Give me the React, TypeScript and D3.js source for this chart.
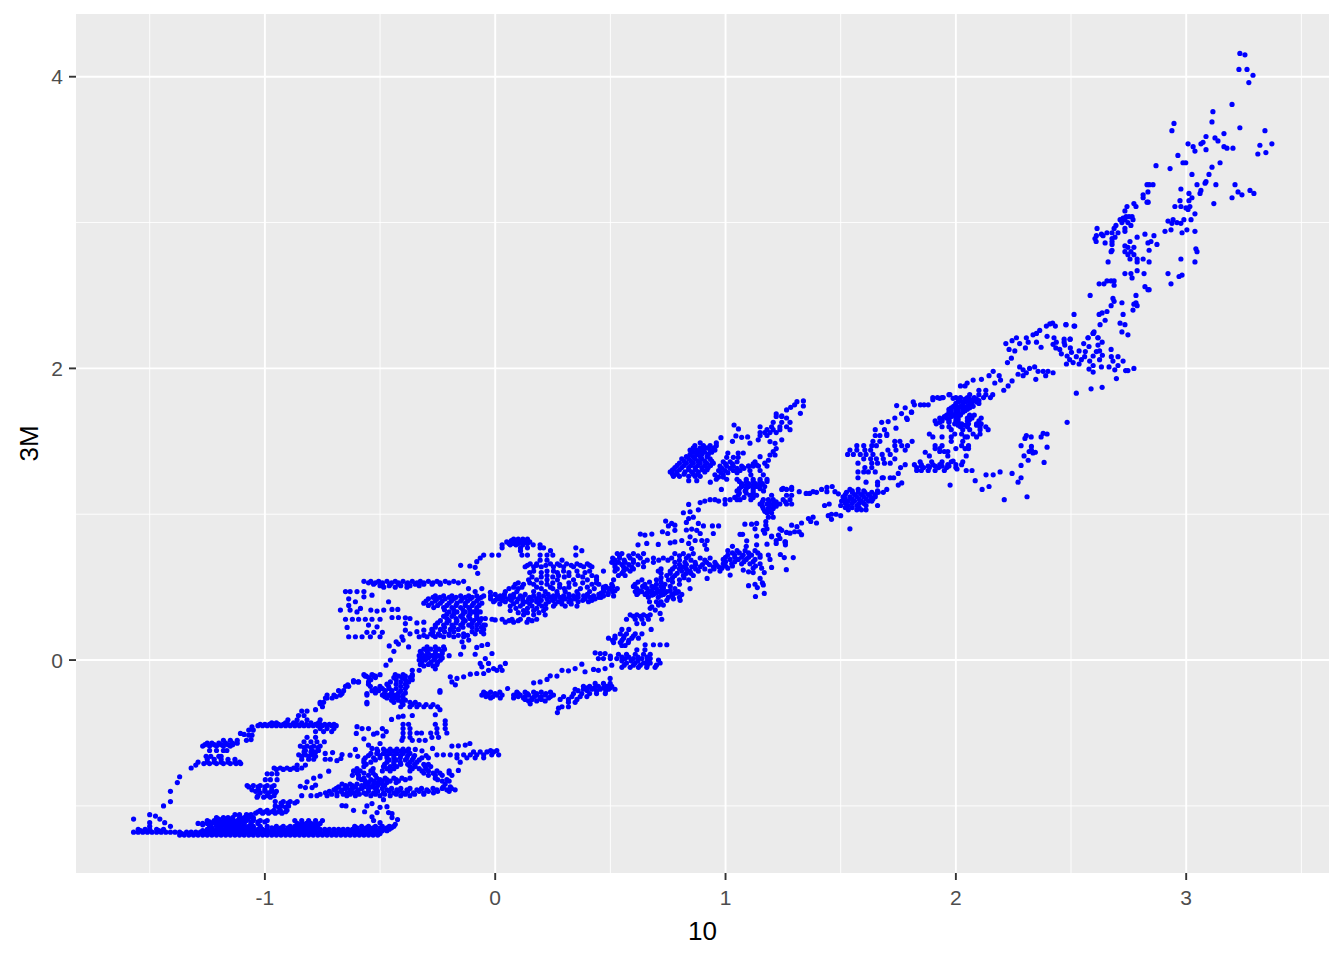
import * as d3 from 'd3';

// rates: x = 10 year, y = 3 month. Rows are [y, [x, x, ...]]
type Row = [number, number[]];

const bottomBand: Row[] = [
  [-1.2, [-1.37,-1.35,-1.33,-1.31,-1.29,-1.27,-1.25,-1.23,-1.21,-1.19,-1.17,-1.15,-1.13,-1.11,-1.09,-1.07,-1.05,-1.03,-1.01,-.99,-.97,-.95,-.93,-.91,-.89,-.87,-.85,-.83,-.81,-.79,-.77,-.75,-.73,-.71,-.69,-.67,-.65,-.63,-.61,-.59,-.57,-.55,-.53,-.51]],
  [-1.19, [-1.36,-1.33,-1.3,-1.27,-1.24,-1.21,-1.18,-1.15,-1.12,-1.09,-1.06,-1.03,-1,-.97,-.94,-.91,-.88,-.85,-.82,-.79,-.76,-.73,-.7,-.67,-.64,-.61,-.58,-.55,-.52,-.5]],
  [-1.18, [-1.57,-1.55,-1.53,-1.51,-1.49,-1.47,-1.45,-1.43,-1.41,-1.39,-1.37,-1.34,-1.32,-1.3,-1.28,-1.26,-1.24,-1.22,-1.2,-1.18,-1.16,-1.14,-1.12,-1.1,-1.08,-1.06,-1.04,-1.02,-1,-.98,-.96,-.94,-.92,-.9,-.88,-.86,-.84,-.82,-.8,-.78,-.76,-.74,-.72,-.7,-.68,-.66,-.64,-.62,-.6,-.58,-.56,-.54,-.52,-.5]],
  [-1.17, [-1.54,-1.5,-1.46,-1.27,-1.24,-1.21,-1.18,-1.15,-1.12,-1.09,-1.06,-1.03,-1,-.97,-.94,-.91,-.88,-.85,-.82,-.79,-.76,-.73,-.7,-.67,-.64,-.61,-.58,-.55,-.52,-.49,-.47]],
  [-1.16, [-1.55,-1.52,-1.5,-1.47,-1.44,-1.25,-1.23,-1.21,-1.19,-1.17,-1.15,-1.13,-1.11,-1.09,-1.07,-1.05,-1.03,-1.01,-.99,-.96,-.94,-.92,-.9,-.88,-.86,-.84,-.82,-.8,-.78,-.76,-.74,-.72,-.7,-.68,-.66,-.64,-.62,-.6,-.58,-.56,-.54,-.52,-.5,-.48,-.46]],
  [-1.15, [-1.23,-1.2,-1.17,-1.14,-1.11,-1.08,-1.05,-.97,-.93,-.9,-.87,-.84,-.81,-.78,-.6,-.56,-.53,-.5,-.47,-.45]],
  [-1.14, [-1.5,-1.24,-1.21,-1.19,-1.17,-1.15,-1.13,-1.11,-1.09,-1.07,-1.05,-1.02,-.99,-.95,-.92,-.89,-.87,-.85,-.83,-.81,-.79,-.77,-.61,-.58,-.55,-.52,-.49,-.46,-.44]],
  [-1.13, [-1.27,-1.24,-1.21,-1.18,-1.15,-1.12,-1.09,-1.06,-.85,-.82,-.79]],
  [-1.12, [-1.29,-1.27,-1.25,-1.23,-1.21,-1.19,-1.17,-1.15,-1.13,-1.11,-1.09,-1.06,-1.03,-.86,-.84,-.82,-.8,-.78,-.76]],
  [-1.11, [-1.24,-1.21,-1.18,-1.15,-1.12,-1.09,-1.06,-1.03,-1]],
  [-1.1, [-1.25,-1.22,-1.2,-1.18,-1.16,-1.14,-1.12,-1.1,-1.08,-1.05,-1.02,-.99,-.87,-.84,-.81,-.78,-.75]],
  [-1.09, [-1.2,-1.17,-1.14,-1.11,-1.08,-1.05]],
  [-1.08, [-1.21,-1.18,-1.16,-1.14,-1.11,-1.09,-1.07,-1.05]],
  [-1.06, [-1.13,-1.11,-1.08,-1.06]],
];

const lowerLeftDots: [number, number][] = [
  [-1.57,-1.09],[-1.5,-1.06],[-1.475,-1.07],[-1.456,-1.09],[-1.435,-1.115],[-1.41,-1.14],[-1.5,-1.115],[-1.44,-1],[-1.41,-.97],[-1.41,-.9],[-1.38,-.84],[-1.37,-.8],
  [-1.32,-.74],[-1.3,-.72],[-.665,-.998],[-.648,-1],[-.615,-1.03],[-.567,-1.04],[-.557,-1],[-.535,-.984],[-.5,-1.01],[-.47,-1.005],[-.513,-1.046],[-.535,-1.075],[-.463,-1.046],[-.448,-1.053],[-.448,-1.08],[-.424,-1.094],[-.528,-1.1],[-.5,-1.115],[-.434,-1.126],[-.456,-1.144],[-.485,-.957],[-1.07,-1.064],
  [-1.056,-.458],[-1.07,-.48],[-1.05,-.48],[-1.09,-.51],[-1.07,-.515],[-1.056,-.515],[-1.08,-.55],[-1.06,-.545],[-1.106,-.503],
  [-.78,-.34],[-.76,-.3],[-.73,-.26],[-.69,-.25],[-.665,-.23],[-.64,-.17],[-.615,-.14],[-.595,-.15],[-.565,-.11],[-.53,-.105],
  [-.76,-.796],[-.788,-.81],[-.817,-.835],[-.78,-.858],[-.846,-.865],[-.824,-.874],[-.795,-.874],[-.723,-.762],[-.706,-.634],[-.738,-.64],[-.63,-.652],[-.607,-.613],[-.597,-.66],[-.665,-.648],[-.67,-.675],[-.687,-.69],
  [-.6,-.457],[-.603,-.503],[-.578,-.47],[-.55,-.47],[-.57,-.54],[-.528,-.508],[-.513,-.5],[-.49,-.47],[-.473,-.49],[-.487,-.52],[-.5,-.572],[-.55,-.583],[-.535,-.606],[-.272,-.606],[-.347,-.613],[-.318,-.622],[-.188,-.59],[-.16,-.588],[-.13,-.583],[-.11,-.572],[-.16,-.757],[-.152,-.7],
  [-.45,-.407],[-.42,-.39],[-.4,-.385],[-.217,-.416],[-.36,-.38],[-.26,-.375],[-.24,-.34],[-.24,-.22],[-.55,-.165],[-.557,-.23],[-.557,-.3],
];

const lowerLeftRows: Row[] = [
  [-.71, [-1.265,-1.24,-1.21,-1.18,-1.15,-1.125,-1.105]],
  [-.7, [-1.29,-1.25,-1.22,-1.19,-1.16,-1.13,-1.11]],
  [-.68, [-1.25,-1.22,-1.19,-1.16,-1.13]],
  [-.66, [-1.255,-1.235,-1.2,-1.19]],
  [-.62, [-1.24,-1.21,-1.18,-1.165]],
  [-.59, [-1.27,-1.24,-1.21,-1.18,-1.15]],
  [-.58, [-1.26,-1.22,-1.19,-1.16,-1.14]],
  [-.57, [-1.25,-1.23,-1.2,-1.17,-1.14,-1.12]],
  [-.55, [-1.18,-1.15,-1.12]],
  [-.45, [-1.03,-1.01,-.99,-.97,-.95,-.93,-.91,-.89,-.87,-.85,-.83,-.81,-.79,-.77,-.75,-.73,-.71,-.69]],
  [-.44, [-1.02,-1,-.98,-.96,-.94,-.92,-.9,-.88,-.86,-.84,-.82,-.8,-.78,-.76,-.74,-.72,-.7]],
  [-.43, [-.97,-.95,-.91,-.875,-.84,-.8,-.767]],
  [-.41, [-.9,-.86,-.817,-.76]],
  [-.38, [-.854,-.83]],
  [-.35, [-.84,-.817]],
  [-.47, [-.76,-.73,-.7]],
  [-.49, [-.78,-.745,-.71]],
  [-.53, [-.817,-.78]],
  [-.56, [-.83,-.8,-.774,-.742]],
  [-.59, [-.846,-.817,-.788,-.76]],
  [-.6, [-.83,-.8,-.77]],
  [-.62, [-.824,-.795,-.767]],
  [-.63, [-.83,-.8,-.78]],
  [-.65, [-.853,-.824,-.795]],
  [-.66, [-.84,-.81,-.78]],
  [-.68, [-.84,-.81,-.788,-.738,-.716]],
  [-.72, [-.86,-.824]],
  [-.74, [-.96,-.933,-.904,-.875,-.84]],
  [-.75, [-.95,-.92,-.89,-.86]],
  [-.78, [-.99,-.97,-.947]],
  [-.82, [-.998,-.976,-.947]],
  [-.86, [-1.077,-1.05,-1.02,-.99,-.96]],
  [-.87, [-1.07,-1.03,-1,-.97]],
  [-.89, [-1.056,-1.027,-1,-.97]],
  [-.9, [-1.04,-1,-.97,-.95]],
  [-.91, [-1.02,-.984,-.955]],
  [-.93, [-1.03,-.99,-.96]],
  [-.94, [-1.034,-1.005,-.976]],
  [-.97, [-.955,-.92,-.89,-.86]],
  [-.98, [-.93,-.9,-.87]],
  [-1, [-.955,-.926,-.897]],
  [-1.01, [-.94,-.91]],
  [-1.03, [-1.02,-.99,-.96,-.933,-.904]],
  [-1.04, [-1.03,-1,-.97,-.94,-.91]],
  [-1.05, [-1.04,-1.01,-.984,-.955,-.926]],
];

const centerLowRows: Row[] = [
  [-.44, [-.4,-.376,-.26,-.217]],
  [-.47, [-.4,-.37,-.253,-.217]],
  [-.5, [-.4,-.37,-.34,-.32,-.28,-.253,-.21]],
  [-.53, [-.4,-.37,-.275,-.246]],
  [-.55, [-.405,-.36,-.33,-.304]],
  [-.61, [-.514,-.485,-.456,-.427,-.4,-.376]],
  [-.625, [-.51,-.47,-.44,-.41,-.385]],
  [-.64, [-.54,-.514,-.485,-.456,-.427,-.4,-.37]],
  [-.655, [-.55,-.5,-.47,-.44,-.41,-.38,-.35,-.3]],
  [-.67, [-.564,-.528,-.5,-.47,-.44,-.412,-.383,-.355,-.318,-.29]],
  [-.685, [-.57,-.52,-.46,-.43,-.39,-.36,-.33]],
  [-.7, [-.57,-.54,-.47,-.44,-.412,-.37,-.34]],
  [-.715, [-.56,-.48,-.44,-.41,-.38,-.35,-.31,-.29]],
  [-.73, [-.57,-.485,-.456,-.427,-.37,-.347,-.304,-.28]],
  [-.745, [-.6,-.53,-.47,-.44,-.36,-.33,-.3]],
  [-.76, [-.615,-.586,-.54,-.49,-.456,-.37,-.318,-.29,-.253,-.2]],
  [-.775, [-.6,-.57,-.53,-.31,-.27,-.24,-.2]],
  [-.79, [-.62,-.593,-.55,-.52,-.29,-.26,-.23,-.188]],
  [-.81, [-.593,-.57,-.514,-.478,-.44,-.405,-.37,-.26]],
  [-.82, [-.58,-.54,-.5,-.47,-.43,-.39,-.25,-.21]],
  [-.83, [-.564,-.528,-.49,-.456,-.42,-.23,-.2]],
  [-.84, [-.55,-.51,-.47,-.43]],
  [-.85, [-.665,-.63,-.6,-.564,-.528,-.49,-.217]],
  [-.86, [-.65,-.62,-.58,-.55,-.51,-.48]],
  [-.87, [-.68,-.644,-.607,-.57,-.535,-.225,-.195]],
  [-.88, [-.69,-.65,-.62,-.58,-.55,-.52,-.49,-.45,-.41,-.37,-.32,-.27,-.23,-.19]],
  [-.89, [-.7,-.665,-.63,-.593,-.514,-.47,-.427,-.383,-.34,-.297,-.253,-.21,-.174]],
  [-.9, [-.72,-.67,-.63,-.6,-.55,-.51,-.46,-.42,-.38,-.33,-.29,-.25,-.2]],
  [-.91, [-.737,-.687,-.644,-.615,-.57,-.528,-.485,-.44,-.4,-.355,-.31,-.268]],
  [-.92, [-.76,-.71,-.66,-.63,-.59,-.56,-.52,-.48,-.43,-.39,-.35,-.31]],
  [-.93, [-.84,-.8,-.774,-.73,-.687,-.644,-.607,-.54,-.5,-.456,-.41,-.37]],
  [-.63, [-.094,-.065,-.036,-.007]],
  [-.62, [-.02,.007]],
  [-.65, [-.253,-.225,-.195,-.166,-.137,-.108,-.08,-.05,-.015,.015]],
  [-.67, [-.166,-.123,-.087,-.05]],
];

const middleLeftRows: Row[] = [
  [.54, [-.57,-.54,-.506,-.47,-.434,-.4,-.36,-.325,-.29,-.253,-.217,-.18,-.137]],
  [.53, [-.55,-.52,-.49,-.45,-.42,-.38,-.34,-.31,-.27,-.24,-.2,-.16]],
  [.52, [-.528,-.49,-.455,-.42,-.383,-.347,-.31,-.274,-.238]],
  [.51, [-.5,-.46,-.41,-.37,-.33]],
  [.5, [-.484,-.434,-.383]],
  [.47, [-.65,-.63,-.6,-.57]],
  [.28, [-.65,-.62,-.593,-.564,-.535,-.5]],
  [.19, [-.557,-.527,-.49]],
  [.16, [-.636,-.607,-.578,-.542,-.5,-.33,-.296,-.26,-.224,-.18,-.137]],
  [.44, [-.26,-.224,-.188,-.15,-.115,-.08,-.05]],
  [.43, [-.27,-.24,-.2,-.17,-.13,-.1,-.06]],
  [.42, [-.29,-.253,-.217,-.18,-.144,-.108,-.072]],
  [.405, [-.3,-.26,-.23,-.19,-.15,-.12,-.08]],
  [.39, [-.31,-.275,-.238,-.2,-.166,-.13,-.094,-.058]],
  [.375, [-.29,-.25,-.21,-.17,-.13,-.1,-.07]],
  [.36, [-.267,-.224,-.188,-.15,-.115,-.08]],
  [.345, [-.22,-.18,-.14,-.11,-.08]],
  [.33, [-.2,-.166,-.13,-.094,-.065]],
  [.315, [-.21,-.18,-.14,-.11,-.08]],
  [.3, [-.224,-.188,-.15,-.115,-.08]],
  [.285, [-.21,-.17,-.14,-.11,-.08,-.06]],
  [.27, [-.238,-.2,-.166,-.13,-.094,-.065]],
  [.255, [-.25,-.21,-.17,-.14,-.1,-.07]],
  [.24, [-.26,-.224,-.188,-.15,-.115,-.08,-.05]],
  [.225, [-.26,-.22,-.18,-.14,-.1,-.06]],
  [.21, [-.275,-.238,-.195,-.16,-.08,-.05]],
  [.195, [-.27,-.22,-.18,-.1,-.06]],
  [.18, [-.28,-.246,-.2,-.137,-.087,-.05]],
  [.17, [-.31,-.27,-.24,-.2,-.16,-.12]],
  [.09, [-.296,-.26,-.224]],
  [.075, [-.31,-.28,-.245,-.22]],
  [.06, [-.325,-.296,-.26,-.23]],
  [.045, [-.32,-.29,-.26,-.23]],
  [.03, [-.33,-.303,-.274,-.246,-.2]],
  [.015, [-.32,-.29,-.26,-.23]],
  [0, [-.33,-.303,-.267,-.238]],
  [-.015, [-.32,-.28,-.25]],
  [-.03, [-.325,-.29,-.253]],
  [-.04, [-.31,-.27]],
  [-.06, [-.26]],
  [-.07, [-.36,-.33]],
  [-.1, [-.57,-.535,-.5,-.434,-.4,-.36]],
  [-.11, [-.56,-.52,-.42,-.39,-.36]],
  [-.12, [-.55,-.52,-.44,-.405,-.37]],
  [-.135, [-.54,-.43,-.39,-.36]],
  [-.15, [-.615,-.593,-.55,-.455,-.41,-.376]],
  [-.165, [-.47,-.43,-.39]],
  [-.18, [-.65,-.636,-.542,-.5,-.463,-.41,-.383]],
  [-.195, [-.52,-.49,-.46,-.43,-.39]],
  [-.21, [-.68,-.658,-.535,-.506,-.477,-.448,-.41,-.24]],
  [-.225, [-.52,-.48,-.45,-.42,-.39]],
  [-.24, [-.73,-.7,-.672,-.557,-.49,-.462,-.434,-.4]],
  [-.25, [-.48,-.45,-.42]],
  [-.26, [-.737,-.708,-.47,-.434,-.4]],
  [-.275, [-.45,-.42,-.39]],
  [-.29, [-.76,-.745,-.557,-.44,-.405,-.37,-.347]],
  [-.305, [-.4,-.36,-.33,-.3,-.27]],
  [-.32, [-.75,-.41,-.37,-.34,-.31,-.28,-.25]],
];

const middleLeftDots: [number, number][] = [
  [-.636,.42],[-.636,.375],[-.607,.4],[-.585,.354],[-.57,.434],[-.535,.445],[-.672,.343],[-.63,.343],[-.6,.33],[-.463,.4],[-.54,.343],[-.513,.336],[-.484,.343],[-.448,.347],[-.423,.347],[-.448,.292],[-.42,.292],[-.643,.224],[-.55,.24],[-.513,.228],
  [-.39,.29],[-.37,.285],[-.34,.255],[-.31,.26],[-.39,.25],[-.39,.205],[-.37,.18],[-.34,.195],[-.31,.205],
  [-.144,.125],[-.137,.09],[-.08,.087],[-.058,.1],[-.033,.107],[-.087,.04],[-.15,.04],[-.115,.137],
  [-.405,.16],[-.43,.125],[-.46,.097],[-.42,.11],[-.376,.09],[-.44,.06],[-.4,.137],[-.455,0],[-.474,-.035],
  [-.195,-.115],[-.188,-.15],[-.173,-.17],[-.166,-.126],[-.137,-.115],[-.108,-.097],[-.08,-.092],[-.05,-.092],[-.065,-.023],[-.043,.01],[-.014,.045],
  [-.058,-.046],[-.029,-.023],[-.029,-.07],[-.007,-.058],[.022,-.046],[.044,-.023],[.007,-.07],[.03,-.07],
  [-.15,.65],[-.11,.645],[-.087,.636],[-.076,.595],[-.08,.675],[-.065,.7],[-.05,.72],[-.014,.72],[.015,.72],
  [-.116,.49],[-.087,.47],[-.058,.49],[-.021,.465],[-.043,.285],[0,.275],[-.043,.24],
];

const centerRows: Row[] = [
  [.83, [.08,.1,.12,.14]],
  [.82, [.07,.1,.13]],
  [.81, [.05,.07,.09,.11,.13,.15]],
  [.8, [.06,.08,.1,.12,.14]],
  [.79, [.03,.065,.09,.12,.165,.195]],
  [.77, [.03,.11,.14,.195,.21,.35]],
  [.75, [.11,.24,.376]],
  [.72, [.116,.14,.195,.225,.25,.35]],
  [.685, [.195,.225,.29]],
  [.66, [.152,.18,.24,.27,.31,.355,.4]],
  [.65, [.14,.18,.22,.28,.33,.37,.41]],
  [.64, [.13,.167,.2,.253,.297,.34,.384,.42]],
  [.61, [.167,.225,.253,.297,.355,.41,.47]],
  [.6, [.15,.2,.27,.32,.39]],
  [.58, [.225,.275,.32,.36,.42]],
  [.57, [.16,.2,.25,.3,.38,.44]],
  [.55, [.145,.18,.225,.27,.34,.4,.44]],
  [.53, [.1,.15,.2,.25,.32,.38,.44]],
  [.52, [.087,.123,.167,.225,.28,.347,.42,.45]],
  [.5, [.08,.116,.18,.24,.28,.32,.4,.47]],
  [.49, [.06,.1,.2,.25,.3,.37,.43,.49]],
  [.47, [.044,.094,.167,.217,.268,.304,.355,.41,.47,.51]],
  [.45, [0,.04,.08,.13,.19,.23,.27,.32,.36,.4,.45,.49]],
  [.44, [-.02,.022,.065,.109,.167,.21,.253,.297,.34,.384,.427,.47,.514]],
  [.43, [.01,.04,.08,.12,.15,.19,.24,.28,.32,.36,.41,.45]],
  [.42, [-.02,.015,.058,.1,.145,.18,.225,.26,.304,.347,.39,.434]],
  [.41, [0,.03,.07,.12,.16,.2,.25,.29,.33,.38,.42]],
  [.4, [-.007,.044,.094,.138,.18,.232,.275,.32,.36,.405]],
  [.385, [.02,.08,.12,.15,.19,.22,.26,.29,.33]],
  [.37, [.065,.109,.16,.203,.253,.304,.355]],
  [.355, [.09,.14,.18,.22]],
  [.34, [.065,.123,.167,.21]],
  [.325, [.1,.14,.19]],
  [.31, [.123,.167,.217]],
  [.28, [-.014,.03,.073,.109,.145,.18]],
  [.27, [.06,.1,.16]],
  [.26, [.044,.08,.138]],
];

const lowerCenterRows: Row[] = [
  [-.22, [-.05,-.02,.02,.094,.13,.167,.2,.24]],
  [-.23, [-.04,0,.1,.14,.18,.22]],
  [-.24, [-.058,-.03,.008,.03,.08,.109,.145,.18,.217,.253]],
  [-.25, [-.04,-.01,.1,.13,.17,.2,.24]],
  [-.26, [-.02,.022,.08,.123,.16,.195,.232]],
  [-.27, [.13,.16,.2]],
  [-.28, [.145,.18,.217]],
  [-.16, [.434,.47,.499]],
  [-.18, [.383,.41,.448,.485,.506]],
  [-.19, [.4,.43,.47,.5]],
  [-.2, [.347,.383,.42,.456,.492,.52]],
  [-.21, [.36,.4,.44,.48]],
  [-.23, [.34,.376,.41,.44,.478]],
  [-.25, [.297,.333,.369,.398]],
  [-.27, [.282,.318,.355]],
  [-.29, [.318,.347]],
  [-.32, [.29,.318]],
  [.07, [.615,.65]],
  [.04, [.535,.57,.608,.644,.673]],
  [.02, [.55,.58,.62,.66]],
  [.01, [.528,.564,.6,.637,.673]],
  [-.005, [.55,.59,.62,.66]],
  [-.02, [.57,.608,.644,.673,.716]],
  [-.035, [.56,.6,.63,.66,.7]],
  [-.05, [.55,.586,.622,.658,.694]],
  [.105, [.651,.687,.716,.745]],
  [.21, [.55,.58,.677]],
  [.18, [.543,.57,.608,.637]],
  [.165, [.52,.56,.6]],
  [.15, [.492,.52,.557,.593,.622]],
  [.135, [.51,.55,.58]],
  [.12, [.514,.543,.578]],
  [.1, [.55,.564]],
  [.31, [.586,.615,.644,.673]],
  [.3, [.6,.63,.66]],
  [.28, [.57,.608,.637,.665,.723]],
  [.25, [.615,.644]],
  [.5, [.651,.687,.73]],
  [.47, [.608,.637,.673,.709,.745,.795]],
  [.46, [.62,.66,.7,.73,.78]],
  [.45, [.615,.651,.687,.73,.767,.81]],
];

const lowerCenterDots: [number, number][] = [
  [.054,-.195],[.152,-.3],[.167,-.156],[.195,-.15],[.225,-.133],[.239,-.108],[.268,-.11],[.29,-.07],[.318,-.074],[.347,-.058],[.376,-.028],[.39,-.08],[.427,-.064],[.448,-.07],
  [.434,.05],[.456,.045],[.477,.045],[.448,.01],[.47,.01],[.5,.027],[.477,-.058],[.506,-.035],[.5,.01],[.499,-.126],[.709,0],[.275,-.33],[.27,-.36],
  [.673,.355],[.709,.377],[.695,.343],[.716,.32],[.7,.4],[.745,.41],[.73,.377],[.774,.42],[.803,.41],
];

const midRightRows: Row[] = [
  [.735, [1.03,1.06,1.1,1.14]],
  [.73, [.53,.55,.6,.644,.78,.817,.86]],
  [.715, [.54,.58,.62,.8,.84]],
  [.7, [.51,.54,.586,.63,.687,.73,.766,.83,.89,.933]],
  [.705, [1,1.04,1.07,1.1,1.15]],
  [.685, [.52,.56,.6,.66,.71,.75,.8,.85,.91]],
  [.675, [1,1.04,1.08,1.12]],
  [.67, [.506,.535,.564,.6,.644,.687,.78,.824,.868,.918,.954]],
  [.655, [.52,.55,.58,.62,.8,.83,.87,.9,.93,.96]],
  [.645, [1,1.03,1.13]],
  [.64, [.52,.557,.593,.644,.78,.817,.853,.89,.947,.97]],
  [.625, [.53,.57,.6,.72,.77,.8,.83,.87,.91,.95]],
  [.61, [.52,.557,.586,.708,.76,.81,.846,.882,.933,.976]],
  [.595, [.55,.72,.76,.79,.83,.85]],
  [.58, [.535,.564,.745,.78,.817,.86]],
  [.565, [.72,.77,.82]],
  [.55, [.514,.637,.7,.752,.8,.84]],
  [.535, [.62,.67,.72,.77]],
  [.52, [.506,.607,.65,.7,.737,.8]],
  [.505, [.48,.51,.6,.64,.68,.72,.76]],
  [.49, [.47,.5,.53,.615,.66,.7,.73,.78,.846]],
  [.475, [.47,.52,.63,.68,.72,.76]],
  [.46, [.46,.49,.62,.66,.694,.737,.788]],
  [.445, [.68,.72,.77]],
  [.43, [.46,.665,.708,.752,.8]],
  [.4, [.67,.72]],
  [.78, [1.03,1.09]],
  [.75, [1.01,1.05,1.085,1.128]],
  [.72, [1.01,1.04,1.077,1.113,1.15,1.186]],
  [.69, [.99,1.02,1.055,1.09,1.128,1.193]],
  [.66, [.99,1.027,1.07,1.106,1.15]],
  [.63, [.984,1.01,1.12,1.157]],
  [1.49, [.89,.96]],
  [1.47, [.867,.904,.933,.96]],
  [1.455, [.86,.89,.92,.95]],
  [1.44, [.846,.875,.904,.933,.954]],
  [1.425, [.86,.89,.91,.94]],
  [1.41, [.846,.875,.897,.925]],
  [1.395, [.83,.86,.89,.92]],
  [1.38, [.81,.84,.868,.897,.933]],
  [1.365, [.82,.85,.88,.91,.94]],
  [1.35, [.8,.83,.86,.89,.918,.947]],
  [1.335, [.79,.82,.85,.88,.91,.935]],
  [1.32, [.78,.81,.84,.868,.897,.925]],
  [1.305, [.77,.8,.84,.87,.9,.92]],
  [1.29, [.76,.788,.824,.853,.882,.91]],
  [1.275, [.77,.79,.82,.86,.88]],
  [1.26, [.774,.8,.84,.868,.89]],
  [1.23, [.84,.875]],
  [1.42, [1.01,1.055,1.077]],
  [1.39, [1.005,1.034,1.055]],
  [1.36, [.99,1.02,1.05,1.128]],
  [1.345, [1,1.03]],
  [1.33, [.976,1.005,1.034,1.07,1.1,1.12,1.143]],
  [1.315, [.985,1.02,1.05,1.08]],
  [1.3, [.97,.998,1.034,1.063,1.106]],
  [1.285, [.98,1.01,1.05]],
  [1.27, [.954,.99,1.11,1.164]],
  [1.255, [.97,.99]],
  [1.24, [.96,1.005,1.05,1.09,1.12,1.15,1.18]],
  [1.225, [1.06,1.09,1.12,1.15,1.18]],
  [1.21, [1.07,1.1,1.13,1.16]],
  [1.2, [1.07,1.09,1.12,1.15]],
  [1.19, [1.07,1.1,1.135,1.17]],
  [1.175, [1.06,1.09,1.12,1.15]],
  [1.16, [1.05,1.085,1.12,1.165]],
  [1.145, [1.06,1.09,1.12]],
  [1.13, [1.055,1.106,1.135,1.2,1.265,1.287]],
  [1.115, [1.04,1.08,1.12]],
  [1.1, [.998,1.02,1.05,1.063,1.11,1.164,1.186,1.207,1.25,1.28]],
  [1.085, [1.16,1.19,1.22,1.26]],
  [1.17, [1.244,1.265,1.287]],
  [1.07, [1.15,1.18,1.207,1.236,1.265,1.287]],
  [1.055, [1.16,1.19,1.22]],
  [1.04, [1.164,1.186,1.207]],
  [1.02, [1.17,1.19]],
  [1.01, [1.18,1.2]],
  [.98, [1.186,1.207]],
  [1.6, [1.15,1.2,1.236,1.265]],
  [1.58, [1.18,1.207,1.236,1.28]],
  [1.63, [1.207,1.244,1.28]],
  [1.67, [1.22,1.244]],
  [1.56, [1.15,1.17,1.193,1.22]],
];

const midRightDots: [number, number][] = [
  [.98,1.525],[.934,1.22],[.982,1.17],[.89,1.08],[.91,1.09],[.933,1.1],[.954,1.1],[.97,1.09],[.998,1.07],
  [1.037,1.612],[1.056,1.585],[1.045,1.537],[1.03,1.5],[1.07,1.527],[1.096,1.53],[1.106,1.487],
  [1.142,1.51],[1.15,1.54],[1.18,1.54],[1.193,1.498],[1.215,1.486],[1.244,1.51],[1.22,1.45],[1.207,1.43],[1.193,1.406],[1.215,1.406],[1.186,1.37],[1.15,1.395],[1.17,1.35],[1.18,1.33],[1.135,1.338],[1.15,1.3],[1.12,1.345],[1.1,1.33],[1.077,1.32],
  [1.22,1.688],[1.244,1.674],[1.265,1.715],[1.283,1.733],[1.31,1.772],[1.3,1.75],[1.338,1.777],[1.338,1.742],[1.325,1.692],[1.265,1.66],
  [1.175,.95],[1.175,.925],[.84,1.067],[.817,1.01],[.846,1.017],[.882,1.03],[.84,.97],[.86,.98],
  [.74,.953],[.766,.937],[.752,.92],[.78,.925],[.726,.88],[.749,.868],[.78,.89],[.83,.944],[.83,.892],[.853,.898],[.882,.937],[.904,.92],[.875,.89],[.89,.868],[.943,.92],[.97,.92],[.947,.868],
  [.63,.864],[.65,.857],[.68,.864],[.81,.82],[.846,.845],[.868,.82],[.84,.8],[.853,.765],[.897,.82],[.92,.82],[.91,.79],[.918,.76],
  [.62,.79],[.658,.8],[.708,.793],[.76,.804],[.78,.81],[.92,.56],[.68,.365],
  [1.077,.617],[1.1,.605],[1.12,.6],[1.168,.6],[1.2,.635],[1.264,.62],[1.02,.583],[1.15,.56],[1.16,.53],[1.128,.52],[1.1,.51],[1.138,.497],[1.168,.457],[1.13,.436],[1.164,.515],[1.238,.724],[1.255,.703],[1.294,.703],
  [1.084,.932],[1.113,.932],[1.135,.937],[1.164,.89],[1.128,.9],[1.18,.9],[1.063,.862],[1.074,.862],[1.135,.85],[1.17,.87],[1.2,.85],[1.092,.818],[1.135,.79],[1.18,.795],[1.22,.82],[1.258,.81],
  [1.236,.9],[1.244,.89],[1.23,.857],[1.236,.834],[1.2,.845],[1.26,.81],[1.22,.8],[1.26,.79],
  [1.33,.94],[1.287,.925],[1.31,.915],[1.32,.88],[1.3,.88],[1.28,.87],[1.265,.875],[1.33,.86],
  [1.36,.97],[1.38,.98],[1.37,.95],[1.395,.94],[1.446,.99],[1.46,1],[1.46,.965],[1.48,1],[1.5,.99],[1.54,.9],[1.43,1.06],[1.45,1.07],
  [1.25,1.177],[1.287,1.184],[1.32,1.155],[1.35,1.143],[1.365,1.143],[1.38,1.155],[1.395,1.15],[1.417,1.17],[1.44,1.184],[1.44,1.155],[1.463,1.19],[1.475,1.155],[1.49,1.14],
];

const rightRows: Row[] = [
  [1.17, [1.54,1.576,1.7]],
  [1.16, [1.55,1.6,1.66]],
  [1.15, [1.525,1.55,1.576,1.605,1.635,1.663,1.685]],
  [1.135, [1.52,1.56,1.59,1.62,1.65]],
  [1.12, [1.51,1.54,1.57,1.6,1.63,1.65]],
  [1.105, [1.52,1.55,1.58,1.61,1.64]],
  [1.09, [1.504,1.533,1.56,1.59,1.62,1.635]],
  [1.075, [1.52,1.55,1.58,1.6]],
  [1.06, [1.5,1.533,1.57,1.61,1.66]],
  [1.045, [1.52,1.55,1.58]],
  [1.03, [1.533,1.57,1.59,1.61]],
  [1.58, [1.65,1.69]],
  [1.54, [1.65,1.67,1.7]],
  [1.5, [1.64,1.67,1.735,1.757,1.81]],
  [1.47, [1.57,1.6,1.635,1.655,1.735,1.765,1.79]],
  [1.44, [1.54,1.57,1.605,1.63,1.705,1.74,1.78]],
  [1.41, [1.53,1.555,1.585,1.61,1.64,1.68,1.715]],
  [1.38, [1.6,1.63,1.655,1.685,1.735]],
  [1.35, [1.575,1.635,1.66,1.69,1.715]],
  [1.32, [1.605,1.635,1.76]],
  [1.29, [1.575,1.6,1.62,1.65]],
  [1.25, [1.575,1.685,1.715,1.73]],
  [1.88, [2.02,2.04]],
  [1.85, [2.1,2.13]],
  [1.82, [1.97,2.06,2.1,2.13,2.16]],
  [1.8, [1.9,1.92,1.94,2,2.02,2.05,2.08,2.12,2.15]],
  [1.79, [2.01,2.04,2.06,2.09]],
  [1.78, [2.02,2.05,2.075,2.1]],
  [1.77, [2.01,2.04,2.07,2.09]],
  [1.76, [2,2.03,2.06,2.1]],
  [1.75, [2,2.03,2.06]],
  [1.74, [1.99,2.02,2.05,2.075]],
  [1.73, [1.98,2.01,2.04,2.06]],
  [1.72, [1.97,2,2.03,2.05]],
  [1.71, [1.98,2.01,2.04]],
  [1.7, [1.97,2,2.03]],
  [1.69, [1.98,2.01]],
  [1.68, [1.96,1.99,2.02,2.06,2.08]],
  [1.67, [1.95,1.98,2.01,2.06]],
  [1.66, [1.93,1.96,2,2.05,2.07,2.11]],
  [1.65, [1.94,1.97,2.01,2.06]],
  [1.64, [1.91,1.94,1.97,2,2.05,2.1]],
  [1.63, [1.93,1.97,2.01]],
  [1.62, [1.915,1.995,2.025,2.055,2.09,2.11]],
  [1.61, [2.01,2.04,2.09]],
  [1.6, [1.94,1.97,2.02,2.05,2.105,2.13]],
  [1.58, [1.98,2.03,2.06,2.105,2.14]],
  [1.55, [1.885,1.995,2.025,2.075,2.105]],
  [1.53, [1.9,1.94,1.98,2.04,2.05,2.09]],
  [1.5, [1.98,2.03]],
  [1.47, [1.91,1.94,2.025,2.055]],
  [1.45, [1.91,1.93,2,2.04,2.055]],
  [1.43, [1.93,1.95,1.965]],
  [1.4, [1.885,1.965,2.045]],
  [1.36, [1.845,1.895,1.94,1.98,2.03]],
  [1.34, [1.82,1.85,1.9,1.93,1.965,2,2.025]],
  [1.33, [1.85,1.88,1.91,1.94,1.97]],
  [1.32, [1.83,1.86,1.885,1.925,1.96,2]],
  [1.3, [1.83,1.85,1.88,1.91,1.95,2.045,2.07]],
];

const rightDots: [number, number][] = [
  [1.743,1.745],[1.78,1.73],[1.764,1.69],[1.808,1.7],[1.786,1.66],[1.735,1.66],[1.706,1.635],[1.678,1.63],[1.74,1.59],[1.7,1.55],
  [1.78,1.34],[1.75,1.28],[1.61,1.22],[1.66,1.22],[1.68,1.25],[1.765,1.215],[1.75,1.2],[1.66,1.2],
  [1.815,1.77],[1.82,1.75],[1.846,1.75],[1.862,1.75],[1.88,1.75],[1.9,1.785],[1.93,1.795],[1.945,1.8],[1.974,1.82],[1.988,1.795],[1.807,1.7],[1.789,1.65],
  [1.867,1.425],[1.988,1.365],[2.005,1.31],[2.084,1.23],[2.131,1.27],[2.162,1.27],[2.192,1.29],[2.244,1.28],[2.114,1.17],[2.144,1.19],[2.21,1.1],[2.309,1.12],[1.975,1.2],[2.27,1.22],[2.283,1.25],
  [2.3,1.52],[2.306,1.54],[2.327,1.53],[2.283,1.47],[2.379,1.555],[2.396,1.55],[2.37,1.53],[2.396,1.46],[2.328,1.465],[2.318,1.43],[2.335,1.42],[2.345,1.425],[2.328,1.44],[2.296,1.4],[2.314,1.37],[2.283,1.335],[2.383,1.355],
  [2.393,2.29],[2.408,2.305],[2.42,2.31],[2.432,2.29],[2.364,2.26],[2.35,2.24],[2.335,2.23],[2.306,2.21],[2.263,2.21],[2.244,2.19],[2.217,2.17],[2.231,2.13],[2.256,2.12],[2.241,2.07],[2.224,2.04],[2.277,2.17],[2.302,2.14],[2.314,2.18],[2.35,2.18],[2.37,2.145],[2.396,2.22],[2.426,2.21],[2.478,2.3],[2.513,2.37],[2.516,2.29],
  [2.422,2.165],[2.436,2.18],[2.434,2.14],[2.451,2.13],[2.47,2.18],[2.473,2.16],[2.496,2.2],[2.458,2.1],[2.497,2.14],[2.502,2.11],[2.483,2.085],[2.494,2.06],[2.509,2.04],[2.535,2.03],[2.48,2.03],[2.523,2.08],[2.545,2.06],[2.559,2.08],[2.535,2.12],[2.555,2.17],[2.574,2.21],[2.596,2.24],[2.578,2.15],[2.562,2.115],[2.617,2.21],[2.635,2.18],[2.617,2.16],
  [2.61,2.115],[2.624,2.12],[2.636,2.09],[2.596,2.085],[2.581,2.05],[2.596,2.02],[2.624,2.06],[2.632,2.01],[2.578,1.995],[2.596,1.975],[2.674,2.13],[2.675,2.08],[2.704,2.08],[2.726,2.05],[2.665,2.01],[2.69,1.99],[2.704,2.02],[2.682,2.05],[2.747,1.985],[2.737,1.985],[2.773,2],[2.697,1.93],
  [2.587,1.86],[2.635,1.87],[2.523,1.83],[2.483,1.63],
  [2.277,2.01],[2.292,1.99],[2.27,1.96],[2.292,1.95],[2.306,1.97],[2.32,2],[2.342,2.01],[2.357,1.98],[2.379,1.98],[2.4,1.98],[2.422,1.97],[2.39,1.95],[2.347,1.925],
  [2.162,1.98],[2.144,1.95],[2.111,1.925],[2.075,1.92],[2.049,1.9],[2.188,1.95],[2.169,1.9],[2.194,1.92],[2.244,1.914],[2.227,1.88],[2.208,1.85],
];

const topDots: [number, number][] = [
  [3.233,4.16],[3.255,4.15],[3.229,4.05],[3.264,4.05],[3.29,4.01],[3.272,3.96],[3.199,3.81],[3.116,3.76],[3.112,3.69],[2.947,3.68],[2.938,3.63],[3.233,3.65],[3.342,3.63],[3.164,3.61],[3.086,3.59],[3.125,3.58],[3.138,3.56],[3.008,3.54],[3.03,3.52],[3.064,3.54],[3.073,3.55],[3.038,3.49],[3.086,3.5],[3.164,3.52],[3.177,3.51],[3.203,3.51],[3.372,3.54],[3.32,3.53],[3.346,3.48],[3.311,3.47],[2.964,3.46],[2.986,3.41],[2.998,3.41],[2.869,3.39],[2.93,3.37],[3.147,3.41],[3.112,3.38],[3.099,3.33],[3.025,3.33],[3.047,3.26],[3.082,3.27],[3.086,3.28],[3.129,3.26],[3.212,3.26],[2.977,3.23],[3.012,3.2],[3.025,3.17],[3.064,3.22],[3.06,3.2],[3.225,3.21],[3.242,3.19],[3.199,3.17],[3.277,3.22],[3.294,3.2],[3.12,3.13],[2.973,3.15],[3.012,3.15],[2.951,3.11],[2.977,3.11],[2.999,3.1],[3.008,3.09],[3.016,3.11],[3.038,3.06],[3.021,3.02],
  [2.921,3.01],[2.938,2.995],[2.943,3.02],[2.96,3],[2.977,2.995],[2.99,3.02],[2.908,2.94],[2.934,2.95],[2.982,2.93],[3.003,2.95],[3.038,2.94],[3.042,2.82],[3.047,2.8],[2.977,2.75],[3.038,2.73],[2.921,2.65],[2.969,2.63],[2.982,2.64],[2.934,2.58],
  [2.83,3.26],[2.84,3.26],[2.856,3.26],[2.834,3.21],[2.813,3.19],[2.813,3.17],[2.83,3.14],[2.835,3.14],[2.773,3.13],[2.782,3.11],[2.743,3.11],[2.734,3.08],
  [2.713,3.02],[2.726,3.03],[2.721,3],[2.739,3.04],[2.752,3.04],[2.765,3.04],[2.769,3.02],[2.747,3],[2.734,3.02],[2.76,2.98],[2.734,2.96],[2.734,2.94],[2.695,2.98],[2.687,2.96],[2.613,2.96],
  [2.704,2.93],[2.691,2.9],[2.678,2.93],[2.656,2.93],[2.632,2.92],[2.639,2.91],[2.61,2.91],[2.604,2.89],[2.609,2.87],[2.648,2.86],[2.678,2.89],[2.678,2.87],[2.678,2.85],[2.678,2.81],[2.674,2.8],[2.661,2.73],
  [2.787,2.9],[2.821,2.92],[2.86,2.91],[2.756,2.87],[2.847,2.87],[2.834,2.86],[2.873,2.85],[2.839,2.81],[2.734,2.84],[2.747,2.83],[2.773,2.83],[2.734,2.8],[2.76,2.8],[2.747,2.78],[2.773,2.78],[2.756,2.75],[2.787,2.75],[2.787,2.73],[2.813,2.75],[2.839,2.73],
  [2.787,2.67],[2.734,2.65],[2.76,2.65],[2.765,2.62],[2.817,2.65],[2.622,2.58],[2.643,2.58],[2.656,2.6],[2.674,2.6],[2.687,2.6],[2.687,2.57],[2.821,2.56],[2.839,2.54],[2.834,2.54],[2.782,2.5],[2.583,2.5],
  [2.682,2.48],[2.687,2.46],[2.674,2.43],[2.721,2.45],[2.773,2.44],[2.782,2.45],[2.787,2.43],[2.769,2.4],[2.726,2.37],[2.656,2.39],[2.635,2.38],[2.622,2.37],[2.478,2.3],[2.513,2.29],[2.648,2.33],[2.626,2.3],[2.713,2.31],[2.734,2.3],[2.721,2.25],[2.747,2.23],[2.6,2.25],[2.596,2.24],[2.617,2.21],[2.574,2.21],[2.496,2.2],[2.47,2.2],
];

const rowGroups = [bottomBand, lowerLeftRows, centerLowRows, middleLeftRows, centerRows, lowerCenterRows, midRightRows, rightRows];
const dotGroups = [lowerLeftDots, middleLeftDots, lowerCenterDots, midRightDots, rightDots, topDots];

const points: [number, number][] = [
  ...rowGroups.flatMap(rows => rows.flatMap(([y, xs]) => xs.map(x => [x, y] as [number, number]))),
  ...dotGroups.flat(),
];

const xMajor = [-1, 0, 1, 2, 3];
const xMinor = [-1.5, -0.5, 0.5, 1.5, 2.5, 3.5];
const yMajor = [0, 2, 4];
const yMinor = [-1, 1, 3];

const width = 1344;
const height = 960;
const margin = { top: 14, right: 15, bottom: 87, left: 76 };

const x = d3.scaleLinear().domain([-1.82, 3.62]).range([margin.left, width - margin.right]);
const y = d3.scaleLinear().domain([-1.46, 4.43]).range([height - margin.bottom, margin.top]);

const font = '"Liberation Sans", Arial, sans-serif';

export default function App() {
  const x0 = margin.left, x1 = width - margin.right;
  const y0 = margin.top, y1 = height - margin.bottom;
  return (
    <svg width={width} height={height} style={{ position: 'absolute', left: 0, top: 0, background: '#fff' }} fontFamily={font}>
      <rect x={x0} y={y0} width={x1 - x0} height={y1 - y0} fill="#EBEBEB" />
      {xMinor.map(d => <line key={d} x1={x(d)} x2={x(d)} y1={y0} y2={y1} stroke="#fff" strokeWidth={0.9} />)}
      {yMinor.map(d => <line key={d} y1={y(d)} y2={y(d)} x1={x0} x2={x1} stroke="#fff" strokeWidth={0.9} />)}
      {xMajor.map(d => <line key={d} x1={x(d)} x2={x(d)} y1={y0} y2={y1} stroke="#fff" strokeWidth={1.9} />)}
      {yMajor.map(d => <line key={d} y1={y(d)} y2={y(d)} x1={x0} x2={x1} stroke="#fff" strokeWidth={1.9} />)}
      <g fill="#0000FF">
        {points.map((p, i) => <circle key={i} cx={x(p[0])} cy={y(p[1])} r={2.6} />)}
      </g>
      {xMajor.map(d => (
        <g key={d}>
          <line x1={x(d)} x2={x(d)} y1={y1} y2={y1 + 7} stroke="#333" strokeWidth={1.9} />
          <text x={x(d)} y={y1 + 32} textAnchor="middle" fontSize={21} fill="#4D4D4D">{d}</text>
        </g>
      ))}
      {yMajor.map(d => (
        <g key={d}>
          <line x1={x0 - 7} x2={x0} y1={y(d)} y2={y(d)} stroke="#333" strokeWidth={1.9} />
          <text x={x0 - 13} y={y(d) + 7.5} textAnchor="end" fontSize={21} fill="#4D4D4D">{d}</text>
        </g>
      ))}
      <text x={(x0 + x1) / 2} y={940} textAnchor="middle" fontSize={26} fill="#000">10</text>
      <text transform={`translate(38,${(y0 + y1) / 2}) rotate(-90)`} textAnchor="middle" fontSize={26} fill="#000">3M</text>
    </svg>
  );
}
